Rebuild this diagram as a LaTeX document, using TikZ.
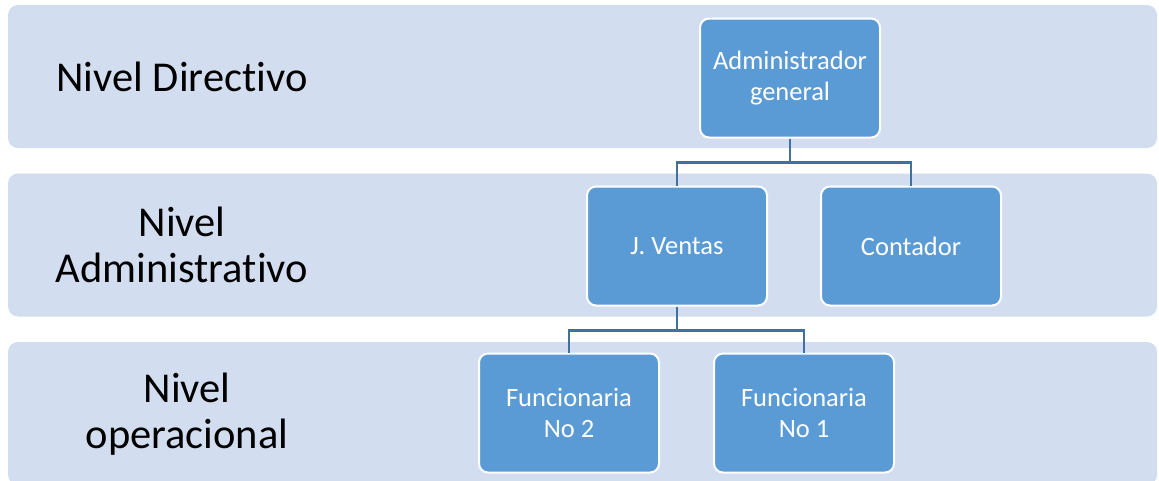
\documentclass[tikz,border=0pt]{standalone}
\usepackage{fontspec}
\setmainfont{Carlito}[Ligatures={NoCommon}]
\usepackage{tikz}
\usetikzlibrary{positioning}
\definecolor{bandblue}{RGB}{210,222,239}
\definecolor{boxblue}{RGB}{91,155,213}
\definecolor{linkblue}{RGB}{65,113,156}

\begin{document}
\begin{tikzpicture}[
  x=1pt, y=-1pt,
  band/.style={rectangle, rounded corners=10pt, fill=bandblue, draw=none,
               minimum width=1149pt, minimum height=143pt, inner sep=0pt},
  level/.style={align=center, font=\fontsize{42.5}{46}\selectfont, text=black},
  role/.style={rectangle, rounded corners=9pt, draw=white, line width=2pt, fill=boxblue,
               minimum width=180pt, minimum height=119pt, align=center,
               font=\fontsize{26.5}{31}\selectfont, text=white},
  link/.style={linkblue, line width=2.5pt},
]
  \useasboundingbox (0,0) rectangle (1159,480);

  % bands
  \node[band] (bdir) at (582.5,76.5) {};
  \node[band] (badm) at (582.5,245) {};
  \node[band] (bope) at (582.5,413.5) {};

  \node[level] (ldir) at (182,77) {Nivel Directivo};
  \node[level] (ladm) at (182,245) {Nivel\\Administrativo};
  \node[level] (lope) at (187,414) {Nivel\\operacional};

  % chart
  \node[role] (admin) at (790,78) {Administrador\\general};
  \node[role] (ventas) at (677,246) {J. Ventas};
  \node[role] (contador) at (911,246) {Contador};
  \node[role] (func2) at (569,413) {Funcionaria\\No 2};
  \node[role] (func1) at (804,413) {Funcionaria\\No 1};

  \foreach \from/\to in {admin/ventas, admin/contador, ventas/func2, ventas/func1}
    \draw[link] (\from.south) -- ++(0,24) -| (\to.north);
\end{tikzpicture}
\end{document}
